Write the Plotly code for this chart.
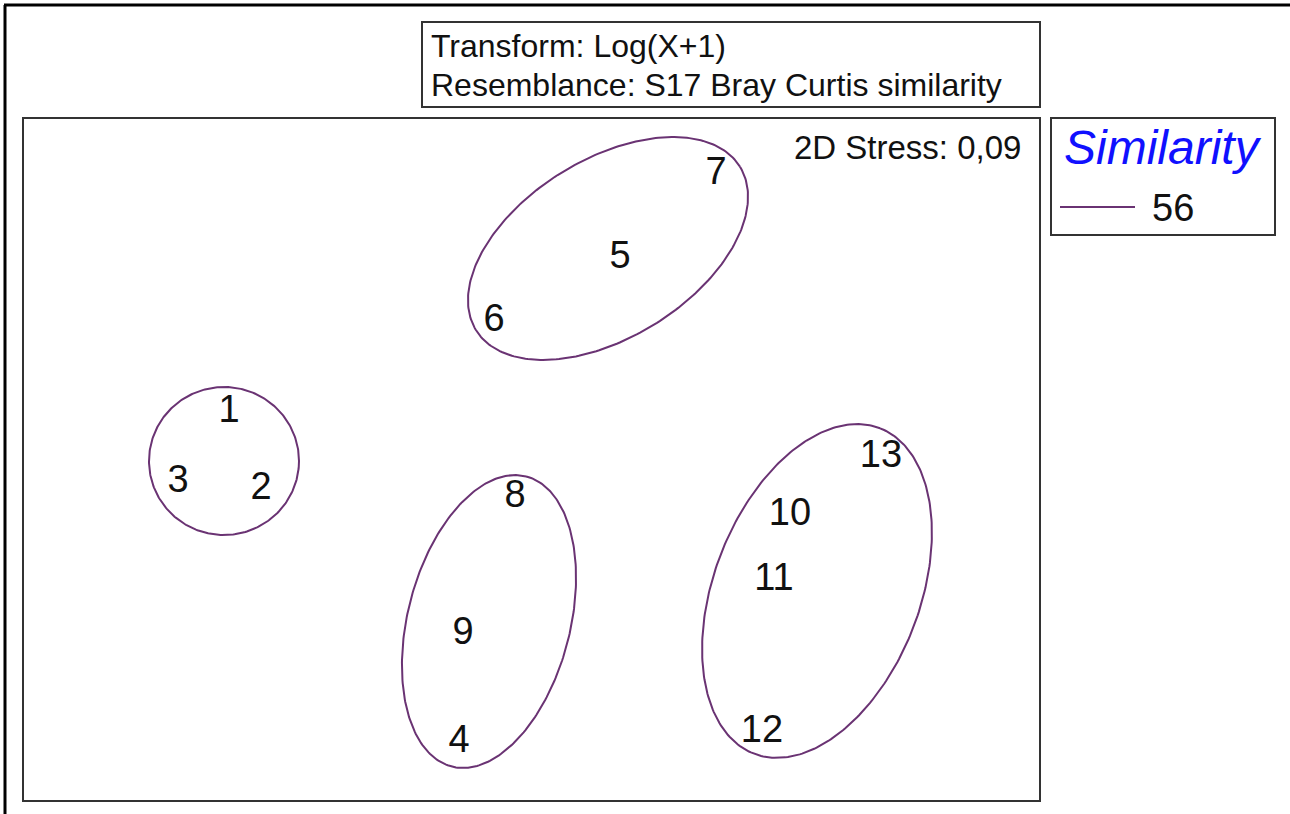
import numpy as np
import plotly.graph_objects as go

# ---- data (MDS coordinates, arbitrary units) ----
sample_labels = ["1", "2", "3", "4", "5", "6", "7", "8", "9", "10", "11", "12", "13"]
mds_x = [-1.21, -1.082, -1.414, -0.29, 0.354, -0.15, 0.738, -0.066, -0.274, 1.034, 0.97, 0.922, 1.398]
mds_y = [0.19, -0.118, -0.09, -1.13, 0.806, 0.554, 1.142, -0.15, -0.698, -0.222, -0.482, -1.09, 0.01]

# similarity (56%) cluster outlines: centre, semi-axes, rotation (deg)
ell_cx = [-1.23, 0.306, -0.17, 1.142]
ell_cy = [-0.006, 0.844, -0.648, -0.526]
ell_a = [0.300, 0.621, 0.599, 0.698]
ell_b = [0.296, 0.356, 0.325, 0.412]
ell_ang = [0.0, 31.8, 75.6, 68.8]

similarity_level = "56"
stress_text = "2D Stress: 0,09"
title_lines = ["Transform: Log(X+1)", "Resemblance: S17 Bray Curtis similarity"]

x_range = [-2.034, 2.034]
y_range = [-1.366, 1.366]

FONT = "Liberation Sans, Arial, sans-serif"
ELL_COLOR = "#6a3373"
W, H = 1290, 814
ML, MR, MT, MB = 23, 250, 118, 13
PW, PH = W - ML - MR, H - MT - MB


def px(x):
    return (x - ML) / PW


def py(y):
    return (H - MB - y) / PH


fig = go.Figure()

t = np.linspace(0, 2 * np.pi, 300)
for cx, cy, a, b, ang in zip(ell_cx, ell_cy, ell_a, ell_b, ell_ang):
    th = np.deg2rad(ang)
    ex = cx + a * np.cos(t) * np.cos(th) - b * np.sin(t) * np.sin(th)
    ey = cy + a * np.cos(t) * np.sin(th) + b * np.sin(t) * np.cos(th)
    fig.add_trace(go.Scatter(x=ex, y=ey, mode="lines",
                             line=dict(color=ELL_COLOR, width=2),
                             hoverinfo="skip", showlegend=False))

fig.add_trace(go.Scatter(x=mds_x, y=mds_y, mode="text", text=sample_labels,
                         textfont=dict(family=FONT, size=38, color="#111111"),
                         textposition="middle center", showlegend=False))

shapes = [
    # plot frame
    dict(type="rect", xref="paper", yref="paper", x0=0, y0=0, x1=1, y1=1,
         line=dict(color="#333333", width=2)),
    # outer frame (left & top)
    dict(type="line", xref="paper", yref="paper", x0=px(5), y0=py(5), x1=px(5), y1=py(820),
         line=dict(color="#000000", width=3)),
    dict(type="line", xref="paper", yref="paper", x0=px(4), y0=py(5), x1=px(1295), y1=py(5),
         line=dict(color="#000000", width=3)),
    # title box
    dict(type="rect", xref="paper", yref="paper", x0=px(422), y0=py(22), x1=px(1040), y1=py(107),
         line=dict(color="#333333", width=2)),
    # legend box
    dict(type="rect", xref="paper", yref="paper", x0=px(1051), y0=py(118), x1=px(1275), y1=py(235),
         line=dict(color="#333333", width=2)),
    # legend line sample
    dict(type="line", xref="paper", yref="paper", x0=px(1060), y0=py(207), x1=px(1135), y1=py(207),
         line=dict(color=ELL_COLOR, width=2)),
]

annotations = [
    dict(text=title_lines[0], xref="paper", yref="paper", x=px(429), y=py(46),
         xanchor="left", yanchor="middle", showarrow=False,
         font=dict(family=FONT, size=32, color="#111111")),
    dict(text=title_lines[1], xref="paper", yref="paper", x=px(429), y=py(85),
         xanchor="left", yanchor="middle", showarrow=False,
         font=dict(family=FONT, size=32, color="#111111")),
    dict(text=stress_text, xref="paper", yref="paper", x=px(1023), y=py(148),
         xanchor="right", yanchor="middle", showarrow=False,
         font=dict(family=FONT, size=33, color="#111111")),
    dict(text="<i>Similarity</i>", xref="paper", yref="paper", x=px(1163), y=py(148),
         xanchor="center", yanchor="middle", showarrow=False,
         font=dict(family=FONT, size=48, color="#1010ff")),
    dict(text=similarity_level, xref="paper", yref="paper", x=px(1150), y=py(208),
         xanchor="left", yanchor="middle", showarrow=False,
         font=dict(family=FONT, size=38, color="#111111")),
]

fig.update_layout(
    width=W, height=H,
    margin=dict(l=ML, r=MR, t=MT, b=MB, pad=0),
    paper_bgcolor="white", plot_bgcolor="white",
    xaxis=dict(range=x_range, visible=False, fixedrange=True),
    yaxis=dict(range=y_range, visible=False, fixedrange=True),
    shapes=shapes, annotations=annotations,
    showlegend=False,
)

fig.write_html("out.html", config={"displayModeBar": False},
               post_script="document.body.style.margin='0';document.body.style.overflow='hidden';")
